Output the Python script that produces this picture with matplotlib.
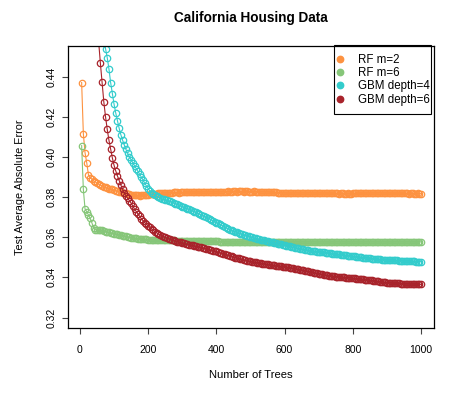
import numpy as np
import matplotlib
matplotlib.use("Agg")
import matplotlib.pyplot as plt
from matplotlib.lines import Line2D
from matplotlib.patches import Rectangle

plt.rcParams["font.family"] = ["Liberation Sans", "DejaVu Sans"]

# ── data: test MAE every 5 trees (5..1000) ─────────────────────────
trees = np.arange(5, 1001, 5)

rf_m2 = [
    0.4370, 0.4115, 0.4020, 0.3970, 0.3910, 0.3895, 0.3890, 0.3880, 0.3875, 0.3870,
    0.3865, 0.3860, 0.3855, 0.3852, 0.3848, 0.3845, 0.3842, 0.3840, 0.3838, 0.3835,
    0.3832, 0.3830, 0.3827, 0.3825, 0.3822, 0.3820, 0.3818, 0.3815, 0.3813, 0.3812,
    0.3810, 0.3809, 0.3808, 0.3808, 0.3807, 0.3808, 0.3809, 0.3810, 0.3811, 0.3812,
    0.3813, 0.3814, 0.3815, 0.3816, 0.3817, 0.3818, 0.3819, 0.3820, 0.3820, 0.3821,
    0.3821, 0.3822, 0.3822, 0.3822, 0.3823, 0.3823, 0.3823, 0.3822, 0.3823, 0.3823,
    0.3824, 0.3824, 0.3823, 0.3824, 0.3824, 0.3825, 0.3825, 0.3824, 0.3825, 0.3825,
    0.3825, 0.3826, 0.3826, 0.3825, 0.3826, 0.3826, 0.3826, 0.3827, 0.3826, 0.3826,
    0.3827, 0.3827, 0.3826, 0.3827, 0.3827, 0.3827, 0.3828, 0.3827, 0.3827, 0.3828,
    0.3828, 0.3827, 0.3828, 0.3828, 0.3828, 0.3827, 0.3828, 0.3828, 0.3827, 0.3827,
    0.3827, 0.3828, 0.3827, 0.3827, 0.3826, 0.3826, 0.3827, 0.3826, 0.3826, 0.3825,
    0.3825, 0.3824, 0.3824, 0.3823, 0.3823, 0.3822, 0.3822, 0.3821, 0.3821, 0.3821,
    0.3820, 0.3820, 0.3820, 0.3819, 0.3820, 0.3820, 0.3821, 0.3820, 0.3820, 0.3821,
    0.3821, 0.3821, 0.3820, 0.3821, 0.3821, 0.3820, 0.3820, 0.3821, 0.3820, 0.3820,
    0.3820, 0.3819, 0.3820, 0.3819, 0.3819, 0.3818, 0.3819, 0.3818, 0.3818, 0.3818,
    0.3818, 0.3817, 0.3818, 0.3818, 0.3817, 0.3817, 0.3818, 0.3817, 0.3817, 0.3818,
    0.3818, 0.3818, 0.3819, 0.3819, 0.3819, 0.3820, 0.3820, 0.3819, 0.3820, 0.3820,
    0.3820, 0.3821, 0.3821, 0.3820, 0.3821, 0.3821, 0.3820, 0.3820, 0.3821, 0.3820,
    0.3820, 0.3819, 0.3820, 0.3819, 0.3819, 0.3819, 0.3818, 0.3819, 0.3818, 0.3818,
    0.3818, 0.3818, 0.3817, 0.3818, 0.3818, 0.3817, 0.3817, 0.3818, 0.3817, 0.3817,
]

rf_m6 = [
    0.4056, 0.3838, 0.3740, 0.3727, 0.3710, 0.3694, 0.3672, 0.3645, 0.3638, 0.3636,
    0.3635, 0.3637, 0.3634, 0.3630, 0.3627, 0.3625, 0.3624, 0.3622, 0.3620, 0.3618,
    0.3616, 0.3614, 0.3612, 0.3610, 0.3608, 0.3606, 0.3604, 0.3602, 0.3600, 0.3598,
    0.3597, 0.3595, 0.3594, 0.3593, 0.3592, 0.3591, 0.3590, 0.3589, 0.3589, 0.3588,
    0.3588, 0.3587, 0.3587, 0.3587, 0.3586, 0.3586, 0.3586, 0.3585, 0.3585, 0.3585,
    0.3585, 0.3584, 0.3584, 0.3584, 0.3584, 0.3583, 0.3583, 0.3583, 0.3583, 0.3582,
    0.3582, 0.3582, 0.3582, 0.3582, 0.3581, 0.3581, 0.3581, 0.3581, 0.3581, 0.3580,
    0.3580, 0.3580, 0.3580, 0.3580, 0.3579, 0.3579, 0.3579, 0.3579, 0.3579, 0.3579,
    0.3579, 0.3578, 0.3578, 0.3578, 0.3578, 0.3578, 0.3577, 0.3578, 0.3577, 0.3577,
    0.3577, 0.3578, 0.3577, 0.3577, 0.3577, 0.3577, 0.3578, 0.3577, 0.3577, 0.3577,
    0.3577, 0.3577, 0.3576, 0.3577, 0.3577, 0.3577, 0.3577, 0.3576, 0.3577, 0.3577,
    0.3577, 0.3577, 0.3577, 0.3578, 0.3577, 0.3577, 0.3577, 0.3577, 0.3577, 0.3576,
    0.3577, 0.3577, 0.3577, 0.3577, 0.3578, 0.3578, 0.3577, 0.3577, 0.3577, 0.3577,
    0.3577, 0.3576, 0.3577, 0.3577, 0.3577, 0.3577, 0.3577, 0.3578, 0.3577, 0.3577,
    0.3577, 0.3577, 0.3577, 0.3577, 0.3576, 0.3577, 0.3577, 0.3577, 0.3577, 0.3577,
    0.3577, 0.3578, 0.3577, 0.3577, 0.3577, 0.3577, 0.3577, 0.3577, 0.3576, 0.3577,
    0.3577, 0.3577, 0.3577, 0.3577, 0.3577, 0.3577, 0.3578, 0.3577, 0.3577, 0.3577,
    0.3577, 0.3577, 0.3577, 0.3577, 0.3577, 0.3576, 0.3577, 0.3577, 0.3577, 0.3577,
    0.3577, 0.3577, 0.3577, 0.3578, 0.3577, 0.3577, 0.3577, 0.3577, 0.3577, 0.3577,
    0.3577, 0.3577, 0.3577, 0.3577, 0.3577, 0.3577, 0.3577, 0.3577, 0.3577, 0.3577,
]

gbm_d4 = [
    0.6400, 0.5900, 0.5600, 0.5400, 0.5250, 0.5120, 0.5020, 0.4940, 0.4870, 0.4810,
    0.4760, 0.4710, 0.4665, 0.4610, 0.4539, 0.4494, 0.4438, 0.4370, 0.4315, 0.4262,
    0.4218, 0.4180, 0.4142, 0.4110, 0.4083, 0.4059, 0.4037, 0.4017, 0.4000, 0.3985,
    0.3970, 0.3956, 0.3942, 0.3929, 0.3915, 0.3901, 0.3885, 0.3868, 0.3855, 0.3842,
    0.3830, 0.3822, 0.3815, 0.3808, 0.3803, 0.3799, 0.3795, 0.3791, 0.3788, 0.3786,
    0.3784, 0.3781, 0.3778, 0.3775, 0.3771, 0.3767, 0.3763, 0.3760, 0.3756, 0.3752,
    0.3749, 0.3745, 0.3742, 0.3738, 0.3735, 0.3731, 0.3728, 0.3724, 0.3720, 0.3716,
    0.3712, 0.3708, 0.3704, 0.3700, 0.3696, 0.3692, 0.3687, 0.3682, 0.3678, 0.3673,
    0.3669, 0.3664, 0.3660, 0.3655, 0.3651, 0.3646, 0.3642, 0.3638, 0.3634, 0.3630,
    0.3627, 0.3624, 0.3621, 0.3618, 0.3616, 0.3613, 0.3610, 0.3607, 0.3605, 0.3602,
    0.3600, 0.3597, 0.3595, 0.3592, 0.3590, 0.3588, 0.3586, 0.3584, 0.3582, 0.3580,
    0.3578, 0.3576, 0.3574, 0.3572, 0.3570, 0.3568, 0.3566, 0.3564, 0.3562, 0.3560,
    0.3558, 0.3556, 0.3554, 0.3552, 0.3550, 0.3548, 0.3546, 0.3545, 0.3543, 0.3541,
    0.3540, 0.3538, 0.3537, 0.3535, 0.3533, 0.3532, 0.3531, 0.3529, 0.3528, 0.3527,
    0.3526, 0.3525, 0.3524, 0.3522, 0.3521, 0.3520, 0.3519, 0.3518, 0.3517, 0.3516,
    0.3515, 0.3514, 0.3513, 0.3512, 0.3510, 0.3509, 0.3508, 0.3507, 0.3506, 0.3505,
    0.3504, 0.3503, 0.3502, 0.3501, 0.3500, 0.3499, 0.3498, 0.3497, 0.3496, 0.3495,
    0.3494, 0.3493, 0.3492, 0.3491, 0.3490, 0.3490, 0.3489, 0.3489, 0.3488, 0.3488,
    0.3487, 0.3487, 0.3486, 0.3486, 0.3485, 0.3485, 0.3484, 0.3484, 0.3483, 0.3483,
    0.3482, 0.3482, 0.3481, 0.3481, 0.3480, 0.3480, 0.3479, 0.3479, 0.3479, 0.3478,
]

gbm_d6 = [
    0.6200, 0.5800, 0.5500, 0.5300, 0.5130, 0.4990, 0.4880, 0.4790, 0.4720, 0.4650,
    0.4570, 0.4465, 0.4372, 0.4274, 0.4200, 0.4137, 0.4083, 0.4040, 0.3995, 0.3958,
    0.3930, 0.3905, 0.3882, 0.3860, 0.3840, 0.3820, 0.3806, 0.3794, 0.3782, 0.3770,
    0.3755, 0.3740, 0.3728, 0.3716, 0.3704, 0.3692, 0.3682, 0.3673, 0.3665, 0.3657,
    0.3649, 0.3641, 0.3634, 0.3628, 0.3622, 0.3617, 0.3612, 0.3607, 0.3603, 0.3599,
    0.3596, 0.3593, 0.3590, 0.3587, 0.3584, 0.3581, 0.3578, 0.3576, 0.3574, 0.3572,
    0.3569, 0.3567, 0.3565, 0.3563, 0.3561, 0.3559, 0.3557, 0.3555, 0.3553, 0.3551,
    0.3549, 0.3547, 0.3545, 0.3543, 0.3540, 0.3538, 0.3535, 0.3533, 0.3531, 0.3529,
    0.3526, 0.3523, 0.3520, 0.3518, 0.3515, 0.3512, 0.3510, 0.3507, 0.3505, 0.3503,
    0.3499, 0.3497, 0.3495, 0.3492, 0.3490, 0.3487, 0.3485, 0.3483, 0.3481, 0.3480,
    0.3478, 0.3477, 0.3475, 0.3474, 0.3472, 0.3471, 0.3469, 0.3468, 0.3466, 0.3465,
    0.3464, 0.3462, 0.3461, 0.3460, 0.3458, 0.3457, 0.3456, 0.3455, 0.3454, 0.3452,
    0.3451, 0.3450, 0.3448, 0.3447, 0.3445, 0.3444, 0.3442, 0.3441, 0.3439, 0.3437,
    0.3436, 0.3434, 0.3432, 0.3430, 0.3428, 0.3426, 0.3424, 0.3422, 0.3420, 0.3419,
    0.3417, 0.3415, 0.3413, 0.3411, 0.3410, 0.3408, 0.3407, 0.3406, 0.3405, 0.3404,
    0.3403, 0.3402, 0.3402, 0.3401, 0.3400, 0.3399, 0.3399, 0.3398, 0.3397, 0.3396,
    0.3395, 0.3394, 0.3393, 0.3392, 0.3391, 0.3390, 0.3389, 0.3388, 0.3387, 0.3386,
    0.3385, 0.3383, 0.3382, 0.3381, 0.3380, 0.3378, 0.3377, 0.3376, 0.3375, 0.3374,
    0.3373, 0.3373, 0.3372, 0.3371, 0.3371, 0.3370, 0.3370, 0.3369, 0.3369, 0.3368,
    0.3368, 0.3368, 0.3367, 0.3367, 0.3367, 0.3366, 0.3366, 0.3366, 0.3366, 0.3365,
]

labels = ["RF m=2", "RF m=6", "GBM depth=4", "GBM depth=6"]
colors = ["#FD9240", "#86C679", "#33CCCC", "#A8232B"]
series = [rf_m2, rf_m6, gbm_d4, gbm_d6]

# ── plot ───────────────────────────────────────────────────────────
fig = plt.figure(figsize=(4.55, 3.93), dpi=100)
ax = fig.add_axes([68/455, 1 - 328/393, (434 - 68)/455, (328 - 46)/393])

for y, c in zip(series, colors):
    ax.plot(trees, y, "-", color=c, lw=0.8, marker="o", ms=4.6, mfc="none",
            mec=c, mew=0.9)

ax.set_xlim(-35, 1038)
ax.set_ylim(0.3148, 0.4552)
ax.set_xticks([0, 200, 400, 600, 800, 1000])
ax.set_yticks([0.32, 0.34, 0.36, 0.38, 0.40, 0.42, 0.44])
ax.set_yticklabels([f"{v:.2f}" for v in ax.get_yticks()], rotation=90, va="center")
ax.tick_params(axis="both", direction="out", length=4, width=0.8, labelsize=7.5,
               color="#444444")
ax.tick_params(axis="x", pad=8)
ax.tick_params(axis="y", pad=4)
for s in ax.spines.values():
    s.set_linewidth(0.9)

ax.set_xlabel("Number of Trees", fontsize=8.1, va="center")
ax.xaxis.set_label_coords(0.5, (328 - 375) / 282)
ax.set_ylabel("Test Average Absolute Error", fontsize=7.8, va="center")
ax.yaxis.set_label_coords((20 - 68) / 366, 0.5)

fig.text(251/455, 1 - 18/393, "California Housing Data", ha="center", va="center",
         fontsize=9.8, fontweight="bold")

# legend: frameless legend + R-style box around it
handles = [Line2D([], [], ls="none", marker="o", ms=4.6, color=c) for c in colors]
ax.legend(handles, labels, loc="upper right",
          bbox_to_anchor=((431 - 68)/366, (328 - 53)/282),
          borderaxespad=0, fontsize=8.3, frameon=False,
          handlelength=1.0, handletextpad=1.03, labelspacing=0.1, borderpad=0.1)
ax.add_patch(Rectangle(((334 - 68)/366, (328 - 114)/282),
                       (431 - 334)/366, (114 - 45)/282,
                       transform=ax.transAxes, fill=False, ec="black", lw=0.8,
                       clip_on=False, zorder=5))

plt.savefig("out.png", dpi=100)
